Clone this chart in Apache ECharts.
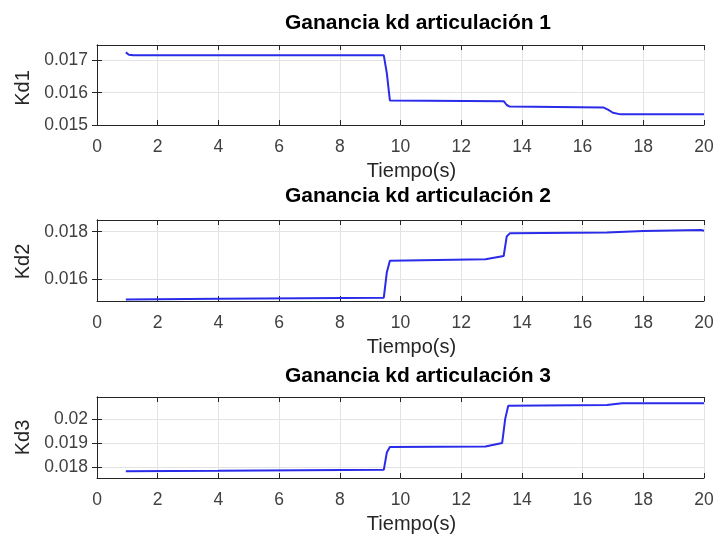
<!DOCTYPE html>
<html>
<head>
<meta charset="utf-8">
<script src="https://cdn.jsdelivr.net/npm/echarts@6/dist/echarts.min.js"></script>
<style>
  html, body { margin: 0; padding: 0; background: #ffffff; }
  #chart { width: 718px; height: 544px; }
</style>
</head>
<body>
<div id="chart"></div>
<script>
// Time axis ticks (seconds)
const timeTicks = [0, 2, 4, 6, 8, 10, 12, 14, 16, 18, 20];

// Gain kd, joint 1
const t1 = [0.95, 1.05, 1.2, 9.45, 9.55, 9.65, 13.4, 13.5, 13.6, 16.7, 16.85, 17.0, 17.25, 20];
const kd1 = [0.01725, 0.01718, 0.01716, 0.01716, 0.0166, 0.01576, 0.01574, 0.01562, 0.01557, 0.01554, 0.01547, 0.01538, 0.01533, 0.01533];
const kd1Ticks = [0.015, 0.016, 0.017];

// Gain kd, joint 2
const t2 = [0.95, 4, 9.45, 9.55, 9.65, 12.8, 13.4, 13.5, 13.6, 16.8, 18, 19.9, 20];
const kd2 = [0.01515, 0.01518, 0.01523, 0.0163, 0.01678, 0.01684, 0.01698, 0.0178, 0.01793, 0.01797, 0.01803, 0.01807, 0.01804];
const kd2Ticks = [0.016, 0.018];

// Gain kd, joint 3
const t3 = [0.95, 4, 9.45, 9.55, 9.65, 12.8, 13.35, 13.45, 13.55, 16.8, 17.3, 20];
const kd3 = [0.01782, 0.01784, 0.01788, 0.0186, 0.01883, 0.01885, 0.0190, 0.0200, 0.02055, 0.02058, 0.02065, 0.02065];
const kd3Ticks = [0.018, 0.019, 0.020];

const titles = ['Ganancia kd articulación 1', 'Ganancia kd articulación 2', 'Ganancia kd articulación 3'];
const yNames = ['Kd1', 'Kd2', 'Kd3'];
const xName = 'Tiempo(s)';

const panels = [
  { t: t1, v: kd1, ticks: kd1Ticks, min: 0.015, max: 0.01748, top: 45, height: 80, titleTop: 13, nameShift: 6, fmt: v => v.toFixed(3) },
  { t: t2, v: kd2, ticks: kd2Ticks, min: 0.01509, max: 0.01849, top: 220, height: 81, titleTop: 186, nameShift: 2, fmt: v => v.toFixed(3) },
  { t: t3, v: kd3, ticks: kd3Ticks, min: 0.01754, max: 0.02091, top: 397, height: 81, titleTop: 366, nameShift: 0, fmt: v => (Math.abs(v - 0.02) < 1e-9 ? '0.02' : v.toFixed(3)) }
];

const FONT = 'Liberation Sans, Arial, sans-serif';
const AXIS_COLOR = '#262626';
const GRID_COLOR = '#e3e3e3';
const LINE_COLOR = '#2b2bea';

const grid = [], xAxis = [], yAxis = [], series = [], title = [];

panels.forEach((p, i) => {
  grid.push({ left: 97, width: 607, top: p.top, height: p.height, show: false });

  title.push({
    text: titles[i],
    left: 418,
    top: p.titleTop,
    textAlign: 'center',
    padding: 0,
    textStyle: { fontFamily: FONT, fontSize: 21, fontWeight: 'bold', color: '#000000' }
  });

  const axisLineStyle = { show: true, lineStyle: { color: AXIS_COLOR, width: 1 } };

  xAxis.push({
    type: 'value', gridIndex: i, position: 'bottom',
    min: 0, max: 20, interval: 2,
    axisLine: axisLineStyle,
    axisTick: { show: true, inside: true, length: 5, lineStyle: { color: AXIS_COLOR } },
    axisLabel: { fontFamily: FONT, fontSize: 17.5, color: '#404040', margin: 13 },
    splitLine: { show: true, lineStyle: { color: GRID_COLOR, width: 1 } },
    name: xName, nameLocation: 'middle', nameGap: 36,
    nameTextStyle: { fontFamily: FONT, fontSize: 20, color: '#262626', padding: [0, 0, 0, 22] }
  });
  xAxis.push({
    type: 'value', gridIndex: i, position: 'top',
    min: 0, max: 20, interval: 2,
    axisLine: axisLineStyle,
    axisTick: { show: true, inside: true, length: 5, lineStyle: { color: AXIS_COLOR } },
    axisLabel: { show: false },
    splitLine: { show: false }
  });

  yAxis.push({
    type: 'value', gridIndex: i, position: 'left',
    min: p.min, max: p.max,
    axisLine: axisLineStyle,
    axisTick: { show: true, inside: true, length: 5, customValues: p.ticks, lineStyle: { color: AXIS_COLOR } },
    axisLabel: { customValues: p.ticks, formatter: p.fmt, fontFamily: FONT, fontSize: 17.5, color: '#404040', margin: 9 },
    splitLine: { show: true, lineStyle: { color: GRID_COLOR, width: 1 } },
    name: yNames[i], nameLocation: 'middle', nameGap: 60, nameRotate: 90,
    nameTextStyle: { fontFamily: FONT, fontSize: 20, color: '#262626', padding: [0, p.nameShift, 0, 0] }
  });
  yAxis.push({
    type: 'value', gridIndex: i, position: 'right',
    min: p.min, max: p.max,
    axisLine: axisLineStyle,
    axisTick: { show: true, inside: true, length: 5, customValues: p.ticks, lineStyle: { color: AXIS_COLOR } },
    axisLabel: { show: false },
    splitLine: { show: false }
  });

  series.push({
    type: 'line',
    xAxisIndex: 2 * i, yAxisIndex: 2 * i,
    data: p.t.map((x, k) => [x, p.v[k]]),
    showSymbol: false, symbol: 'none',
    lineStyle: { color: LINE_COLOR, width: 2 },
    animation: false
  });
});

const chart = echarts.init(document.getElementById('chart'), null, { renderer: 'canvas' });
chart.setOption({
  backgroundColor: '#ffffff',
  animation: false,
  title, grid, xAxis, yAxis, series
});
</script>
</body>
</html>
